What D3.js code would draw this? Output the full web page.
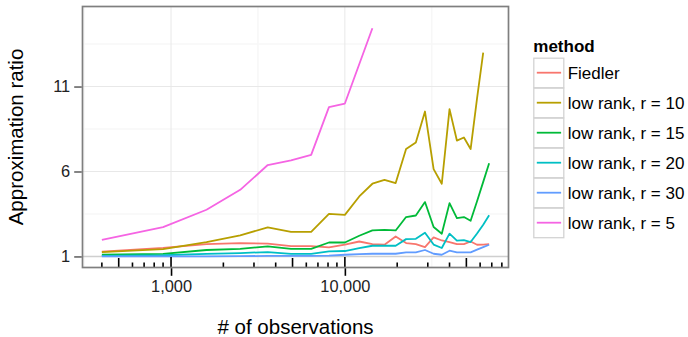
<!DOCTYPE html>
<html><head><meta charset="utf-8">
<script src="https://cdn.jsdelivr.net/npm/d3@7"></script>
<style>
body{margin:0;background:#fff}
svg text{font-family:"Liberation Sans",Arial,Helvetica,sans-serif}
</style>
</head><body>
<svg id="c" width="688" height="337"></svg>
<script>
// ---- data ----
const observations = [400, 900, 1600, 2500, 3600, 4900, 6400, 8100, 10000, 12100, 14400, 16900, 19600,
  22500, 25600, 28900, 32400, 36100, 40000, 44100, 48400, 52900, 57600, 62500, 67600];
const methods = ["Fiedler", "low rank, r = 10", "low rank, r = 15", "low rank, r = 20", "low rank, r = 30", "low rank, r = 5"];
const fiedler = [1.29, 1.51, 1.73, 1.79, 1.75, 1.61, 1.61, 1.53, 1.7, 1.88, 1.73, 1.69, 2.18,
  1.79, 1.73, 1.55, 2.12, 1.94, 1.85, 1.73, 1.73, 1.88, 1.69, 1.7, 1.73];
const rank10 = [1.26, 1.43, 1.84, 2.24, 2.71, 2.45, 2.45, 3.51, 3.45, 4.53, 5.28, 5.51, 5.32,
  7.32, 7.71, 9.53, 6.14, 5.28, 9.67, 7.82, 8.0, 7.32, 10.3, 13.0, null];
const rank15 = [1.1, 1.15, 1.38, 1.45, 1.59, 1.45, 1.45, 1.82, 1.82, 2.22, 2.53, 2.57, 2.53,
  3.32, 3.41, 4.2, 2.73, 2.34, 4.14, 3.26, 3.32, 3.1, 4.25, 5.39, 6.49];
const rank20 = [1.04, 1.07, 1.15, 1.2, 1.26, 1.15, 1.15, 1.3, 1.32, 1.49, 1.63, 1.63, 1.63,
  2.02, 2.04, 2.4, 1.7, 1.5, 2.34, 1.93, 1.96, 1.85, 2.35, 2.87, 3.42];
const rank30 = [1.0, 1.0, 1.01, 1.02, 1.03, 1.03, 1.03, 1.05, 1.1, 1.14, 1.16, 1.16, 1.16,
  1.24, 1.24, 1.38, 1.16, 1.1, 1.34, 1.24, 1.24, 1.24, 1.4, 1.55, 1.69];
const rank5 = [1.98, 2.73, 3.75, 4.92, 6.38, 6.65, 6.98, 9.79, 10.0, null, 14.43, null, null,
  null, null, null, null, null, null, null, null, null, null, null, null];
const seriesValues = [fiedler, rank10, rank15, rank20, rank30, rank5];
const colors = ["#F8766D", "#B79F00", "#00BA38", "#00BFC4", "#619CFF", "#F564E3"];
const yTickValues = [1, 6, 11];
const yMinorValues = [3.5, 8.5, 13.5];
const xTickValues = [1000, 10000];
const xTickLabels = ["1,000", "10,000"];

// ---- layout ----
const L = 82.5, T = 6.5, W = 426, H = 261;
const svg = d3.select("#c");
const x = d3.scaleLog().domain([Math.pow(10, 2.49067), Math.pow(10, 4.94134)]).range([L, L + W]);
const y = d3.scaleLinear().domain([0.35, 15.71]).range([T + H, T]);

// panel background
svg.append("rect").attr("x", L).attr("y", T).attr("width", W).attr("height", H).attr("fill", "#fff");

// minor grid
const xMinor = [Math.pow(10, 2.5), Math.pow(10, 3.5), Math.pow(10, 4.5)];
svg.append("g").selectAll("line").data(xMinor).join("line")
  .attr("x1", d => x(d)).attr("x2", d => x(d)).attr("y1", T).attr("y2", T + H)
  .attr("stroke", "#f7f7f7").attr("stroke-width", 1.5);
svg.append("g").selectAll("line").data(yMinorValues).join("line")
  .attr("y1", d => y(d)).attr("y2", d => y(d)).attr("x1", L).attr("x2", L + W)
  .attr("stroke", "#f7f7f7").attr("stroke-width", 1.5);
// major grid
svg.append("g").selectAll("line").data(xTickValues).join("line")
  .attr("x1", d => x(d)).attr("x2", d => x(d)).attr("y1", T).attr("y2", T + H)
  .attr("stroke", "#e8e8e8").attr("stroke-width", 1);
svg.append("g").selectAll("line").data(yTickValues).join("line")
  .attr("y1", d => y(d)).attr("y2", d => y(d)).attr("x1", L).attr("x2", L + W)
  .attr("stroke", "#e8e8e8").attr("stroke-width", 1);
// reference line at 1
svg.append("line").attr("x1", L).attr("x2", L + W).attr("y1", y(1)).attr("y2", y(1))
  .attr("stroke", "#cfcfcf").attr("stroke-width", 1.6);

// data lines
const line = d3.line().x(d => x(d[0])).y(d => y(d[1]));
seriesValues.forEach((vals, i) => {
  const pts = observations.map((o, j) => [o, vals[j]]).filter(p => p[1] !== null);
  svg.append("path").datum(pts).attr("d", line).attr("fill", "none")
    .attr("stroke", colors[i]).attr("stroke-width", 1.8).attr("stroke-linejoin", "round");
});

// log ticks on bottom
const logTicks = [];
[100, 1000, 10000].forEach(dec => {
  for (let m = 1; m <= 9; m++) {
    const v = dec * m;
    const [a, b] = x.domain();
    if (v >= a && v <= b) logTicks.push({v, len: m === 1 ? 10.5 : (m === 5 ? 9.5 : 5)});
  }
});
svg.append("g").selectAll("line").data(logTicks).join("line")
  .attr("x1", d => x(d.v)).attr("x2", d => x(d.v))
  .attr("y1", T + H).attr("y2", d => T + H - d.len)
  .attr("stroke", "#000").attr("stroke-width", 1.6);

// panel border
svg.append("rect").attr("x", L).attr("y", T).attr("width", W).attr("height", H)
  .attr("fill", "none").attr("stroke", "#7f7f7f").attr("stroke-width", 1.7);

// axes
const yAxis = d3.axisLeft(y).tickValues(yTickValues).tickSize(7.5).tickPadding(4);
const gy = svg.append("g").attr("transform", `translate(${L - 0.8},0)`).call(yAxis);
gy.select(".domain").remove();
gy.selectAll(".tick line").attr("stroke", "#333").attr("stroke-width", 1.2);
gy.selectAll(".tick text").attr("font-size", 16.4).attr("fill", "#222").attr("font-family", "Liberation Sans, Arial, sans-serif");

const xAxis = d3.axisBottom(x).tickValues(xTickValues).tickFormat((d, i) => xTickLabels[i]).tickSize(7.5).tickPadding(5);
const gx = svg.append("g").attr("transform", `translate(0,${T + H + 0.8})`).call(xAxis);
gx.select(".domain").remove();
gx.selectAll(".tick line").attr("stroke", "#000").attr("stroke-width", 1.6);
gx.selectAll(".tick text").attr("font-size", 16.4).attr("fill", "#222").attr("font-family", "Liberation Sans, Arial, sans-serif");

// axis titles
svg.append("text").attr("x", L + W / 2).attr("y", 334).attr("text-anchor", "middle")
  .attr("font-size", 20.5).attr("fill", "#000").text("# of observations");
svg.append("text").attr("transform", `translate(23,${T + H / 2}) rotate(-90)`).attr("text-anchor", "middle")
  .attr("font-size", 20.5).attr("fill", "#000").text("Approximation ratio");

// legend
const lg = svg.append("g").attr("transform", "translate(533.3,0)");
lg.append("text").attr("x", 0).attr("y", 51.5).attr("font-size", 17).attr("font-weight", "bold").text("method");
methods.forEach((m, i) => {
  const top = 57.7 + i * 30;
  lg.append("rect").attr("x", 0.5).attr("y", top + 0.5).attr("width", 30).attr("height", 29.5)
    .attr("fill", "#fff").attr("stroke", "#d3d3d3").attr("stroke-width", 1.3);
  lg.append("line").attr("x1", 3.5).attr("x2", 27.8).attr("y1", top + 15).attr("y2", top + 15)
    .attr("stroke", colors[i]).attr("stroke-width", 1.8);
  lg.append("text").attr("x", 34.4).attr("y", top + 21).attr("font-size", 17).attr("fill", "#000").text(m);
});
</script>
</body></html>
